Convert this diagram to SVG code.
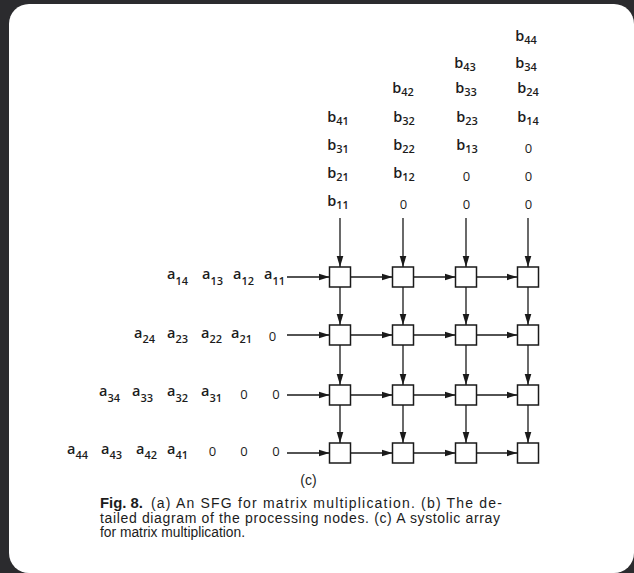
<svg xmlns="http://www.w3.org/2000/svg" width="634" height="573" viewBox="0 0 634 573">
  <style>
    .lbl { font-family: "Open Sans", "Liberation Sans", sans-serif; fill: #1c1c1c; font-weight: 600; }
    .m { font-size: 14.5px; }
    .s { font-size: 11px; }
    .z { font-size: 13px; font-weight: 400; }
    .pe { fill: #ffffff; stroke: #1a1a1a; stroke-width: 1.5; }
    .wire { stroke: #1a1a1a; stroke-width: 1.3; fill: none; marker-end: url(#ah); }
    .cap { font-family: "Liberation Sans", Arial, sans-serif; font-size: 14px; fill: #1c1c1c; }
  </style>
  <defs>
    <marker id="ah" markerWidth="12" markerHeight="8" refX="11" refY="4" orient="auto" markerUnits="userSpaceOnUse">
      <path d="M0,0.7 L11,4 L0,7.3 Z" fill="#1a1a1a"/>
    </marker>
  </defs>

  <!-- backdrop and page -->
  <rect x="0" y="0" width="634" height="573" fill="#2b2b2e"/>
  <rect x="9" y="4" width="625" height="569" rx="20" ry="20" fill="#ffffff"/>

  <!-- connectors -->
  <g id="connectors">
    <!-- column inputs -->
    <line class="wire" x1="340" y1="218" x2="340" y2="267"/>
    <line class="wire" x1="403" y1="218" x2="403" y2="267"/>
    <line class="wire" x1="466" y1="218" x2="466" y2="267"/>
    <line class="wire" x1="528" y1="218" x2="528" y2="267"/>
    <!-- row inputs -->
    <line class="wire" x1="287" y1="277" x2="329.5" y2="277"/>
    <line class="wire" x1="287" y1="335" x2="329.5" y2="335"/>
    <line class="wire" x1="287" y1="395" x2="329.5" y2="395"/>
    <line class="wire" x1="287" y1="453" x2="329.5" y2="453"/>
    <!-- horizontal links -->
    <line class="wire" x1="350.5" y1="277" x2="392.5" y2="277"/>
    <line class="wire" x1="413.5" y1="277" x2="455.5" y2="277"/>
    <line class="wire" x1="476.5" y1="277" x2="517.5" y2="277"/>
    <line class="wire" x1="350.5" y1="335" x2="392.5" y2="335"/>
    <line class="wire" x1="413.5" y1="335" x2="455.5" y2="335"/>
    <line class="wire" x1="476.5" y1="335" x2="517.5" y2="335"/>
    <line class="wire" x1="350.5" y1="395" x2="392.5" y2="395"/>
    <line class="wire" x1="413.5" y1="395" x2="455.5" y2="395"/>
    <line class="wire" x1="476.5" y1="395" x2="517.5" y2="395"/>
    <line class="wire" x1="350.5" y1="453" x2="392.5" y2="453"/>
    <line class="wire" x1="413.5" y1="453" x2="455.5" y2="453"/>
    <line class="wire" x1="476.5" y1="453" x2="517.5" y2="453"/>
    <!-- vertical links -->
    <line class="wire" x1="340" y1="287" x2="340" y2="325"/>
    <line class="wire" x1="403" y1="287" x2="403" y2="325"/>
    <line class="wire" x1="466" y1="287" x2="466" y2="325"/>
    <line class="wire" x1="528" y1="287" x2="528" y2="325"/>
    <line class="wire" x1="340" y1="345" x2="340" y2="385"/>
    <line class="wire" x1="403" y1="345" x2="403" y2="385"/>
    <line class="wire" x1="466" y1="345" x2="466" y2="385"/>
    <line class="wire" x1="528" y1="345" x2="528" y2="385"/>
    <line class="wire" x1="340" y1="405" x2="340" y2="443"/>
    <line class="wire" x1="403" y1="405" x2="403" y2="443"/>
    <line class="wire" x1="466" y1="405" x2="466" y2="443"/>
    <line class="wire" x1="528" y1="405" x2="528" y2="443"/>
  </g>

  <!-- processing elements -->
  <g id="pe-1-1"><rect class="pe" x="329.5" y="267" width="21" height="20"/></g>
  <g id="pe-1-2"><rect class="pe" x="392.5" y="267" width="21" height="20"/></g>
  <g id="pe-1-3"><rect class="pe" x="455.5" y="267" width="21" height="20"/></g>
  <g id="pe-1-4"><rect class="pe" x="517.5" y="267" width="21" height="20"/></g>
  <g id="pe-2-1"><rect class="pe" x="329.5" y="325" width="21" height="20"/></g>
  <g id="pe-2-2"><rect class="pe" x="392.5" y="325" width="21" height="20"/></g>
  <g id="pe-2-3"><rect class="pe" x="455.5" y="325" width="21" height="20"/></g>
  <g id="pe-2-4"><rect class="pe" x="517.5" y="325" width="21" height="20"/></g>
  <g id="pe-3-1"><rect class="pe" x="329.5" y="385" width="21" height="20"/></g>
  <g id="pe-3-2"><rect class="pe" x="392.5" y="385" width="21" height="20"/></g>
  <g id="pe-3-3"><rect class="pe" x="455.5" y="385" width="21" height="20"/></g>
  <g id="pe-3-4"><rect class="pe" x="517.5" y="385" width="21" height="20"/></g>
  <g id="pe-4-1"><rect class="pe" x="329.5" y="443" width="21" height="20"/></g>
  <g id="pe-4-2"><rect class="pe" x="392.5" y="443" width="21" height="20"/></g>
  <g id="pe-4-3"><rect class="pe" x="455.5" y="443" width="21" height="20"/></g>
  <g id="pe-4-4"><rect class="pe" x="517.5" y="443" width="21" height="20"/></g>

  <!-- B matrix feed, one stream per column -->
  <g id="b-col-1" class="lbl" text-anchor="middle">
    <text x="338" y="122"><tspan class="m">b</tspan><tspan class="s" dy="3">41</tspan></text>
    <text x="338" y="150"><tspan class="m">b</tspan><tspan class="s" dy="3">31</tspan></text>
    <text x="338" y="178"><tspan class="m">b</tspan><tspan class="s" dy="3">21</tspan></text>
    <text x="338" y="206"><tspan class="m">b</tspan><tspan class="s" dy="3">11</tspan></text>
  </g>
  <g id="b-col-2" class="lbl" text-anchor="middle">
    <text x="403" y="93"><tspan class="m">b</tspan><tspan class="s" dy="3">42</tspan></text>
    <text x="404" y="122"><tspan class="m">b</tspan><tspan class="s" dy="3">32</tspan></text>
    <text x="404" y="150"><tspan class="m">b</tspan><tspan class="s" dy="3">22</tspan></text>
    <text x="404" y="178"><tspan class="m">b</tspan><tspan class="s" dy="3">12</tspan></text>
    <text class="z" x="403.5" y="208.5">0</text>
  </g>
  <g id="b-col-3" class="lbl" text-anchor="middle">
    <text x="465" y="68"><tspan class="m">b</tspan><tspan class="s" dy="3">43</tspan></text>
    <text x="466" y="93"><tspan class="m">b</tspan><tspan class="s" dy="3">33</tspan></text>
    <text x="467" y="122"><tspan class="m">b</tspan><tspan class="s" dy="3">23</tspan></text>
    <text x="467" y="150"><tspan class="m">b</tspan><tspan class="s" dy="3">13</tspan></text>
    <text class="z" x="466.5" y="180.5">0</text>
    <text class="z" x="466.5" y="208.5">0</text>
  </g>
  <g id="b-col-4" class="lbl" text-anchor="middle">
    <text x="526" y="41"><tspan class="m">b</tspan><tspan class="s" dy="3">44</tspan></text>
    <text x="526" y="68"><tspan class="m">b</tspan><tspan class="s" dy="3">34</tspan></text>
    <text x="528" y="93"><tspan class="m">b</tspan><tspan class="s" dy="3">24</tspan></text>
    <text x="528" y="122"><tspan class="m">b</tspan><tspan class="s" dy="3">14</tspan></text>
    <text class="z" x="528.5" y="152.5">0</text>
    <text class="z" x="528.5" y="180.5">0</text>
    <text class="z" x="528.5" y="208.5">0</text>
  </g>

  <!-- A matrix feed, one stream per row -->
  <g id="a-row-1" class="lbl">
    <text x="167" y="279"><tspan class="m">a</tspan><tspan class="s" dy="5.5">14</tspan></text>
    <text x="202" y="279"><tspan class="m">a</tspan><tspan class="s" dy="5.5">13</tspan></text>
    <text x="233" y="279"><tspan class="m">a</tspan><tspan class="s" dy="5.5">12</tspan></text>
    <text x="264" y="279"><tspan class="m">a</tspan><tspan class="s" dy="5.5">11</tspan></text>
  </g>
  <g id="a-row-2" class="lbl">
    <text x="134" y="337.5"><tspan class="m">a</tspan><tspan class="s" dy="5.5">24</tspan></text>
    <text x="167" y="337.5"><tspan class="m">a</tspan><tspan class="s" dy="5.5">23</tspan></text>
    <text x="201" y="337.5"><tspan class="m">a</tspan><tspan class="s" dy="5.5">22</tspan></text>
    <text x="231" y="337.5"><tspan class="m">a</tspan><tspan class="s" dy="5.5">21</tspan></text>
    <text class="z" x="272.5" y="341" text-anchor="middle">0</text>
  </g>
  <g id="a-row-3" class="lbl">
    <text x="99" y="396"><tspan class="m">a</tspan><tspan class="s" dy="5.5">34</tspan></text>
    <text x="132" y="396"><tspan class="m">a</tspan><tspan class="s" dy="5.5">33</tspan></text>
    <text x="167" y="396"><tspan class="m">a</tspan><tspan class="s" dy="5.5">32</tspan></text>
    <text x="201" y="396"><tspan class="m">a</tspan><tspan class="s" dy="5.5">31</tspan></text>
    <text class="z" x="244" y="399" text-anchor="middle">0</text>
    <text class="z" x="276" y="399" text-anchor="middle">0</text>
  </g>
  <g id="a-row-4" class="lbl">
    <text x="67" y="453.5"><tspan class="m">a</tspan><tspan class="s" dy="5.5">44</tspan></text>
    <text x="101" y="453.5"><tspan class="m">a</tspan><tspan class="s" dy="5.5">43</tspan></text>
    <text x="136" y="453.5"><tspan class="m">a</tspan><tspan class="s" dy="5.5">42</tspan></text>
    <text x="167" y="453.5"><tspan class="m">a</tspan><tspan class="s" dy="5.5">41</tspan></text>
    <text class="z" x="212.5" y="456" text-anchor="middle">0</text>
    <text class="z" x="244" y="456" text-anchor="middle">0</text>
    <text class="z" x="276" y="456" text-anchor="middle">0</text>
  </g>

  <!-- sub-figure tag and caption -->
  <text class="cap" x="308.5" y="485" text-anchor="middle" font-size="14.5">(c)</text>
  <g id="caption" class="cap">
    <text x="100" y="508" font-weight="bold" textLength="43" lengthAdjust="spacingAndGlyphs">Fig. 8.</text>
    <text x="151" y="508" textLength="351" lengthAdjust="spacing">(a) An SFG for matrix multiplication. (b) The de-</text>
    <text x="100" y="522.5" textLength="400" lengthAdjust="spacing">tailed diagram of the processing nodes. (c) A systolic array</text>
    <text x="100" y="537" textLength="145" lengthAdjust="spacingAndGlyphs">for matrix multiplication.</text>
  </g>
</svg>
